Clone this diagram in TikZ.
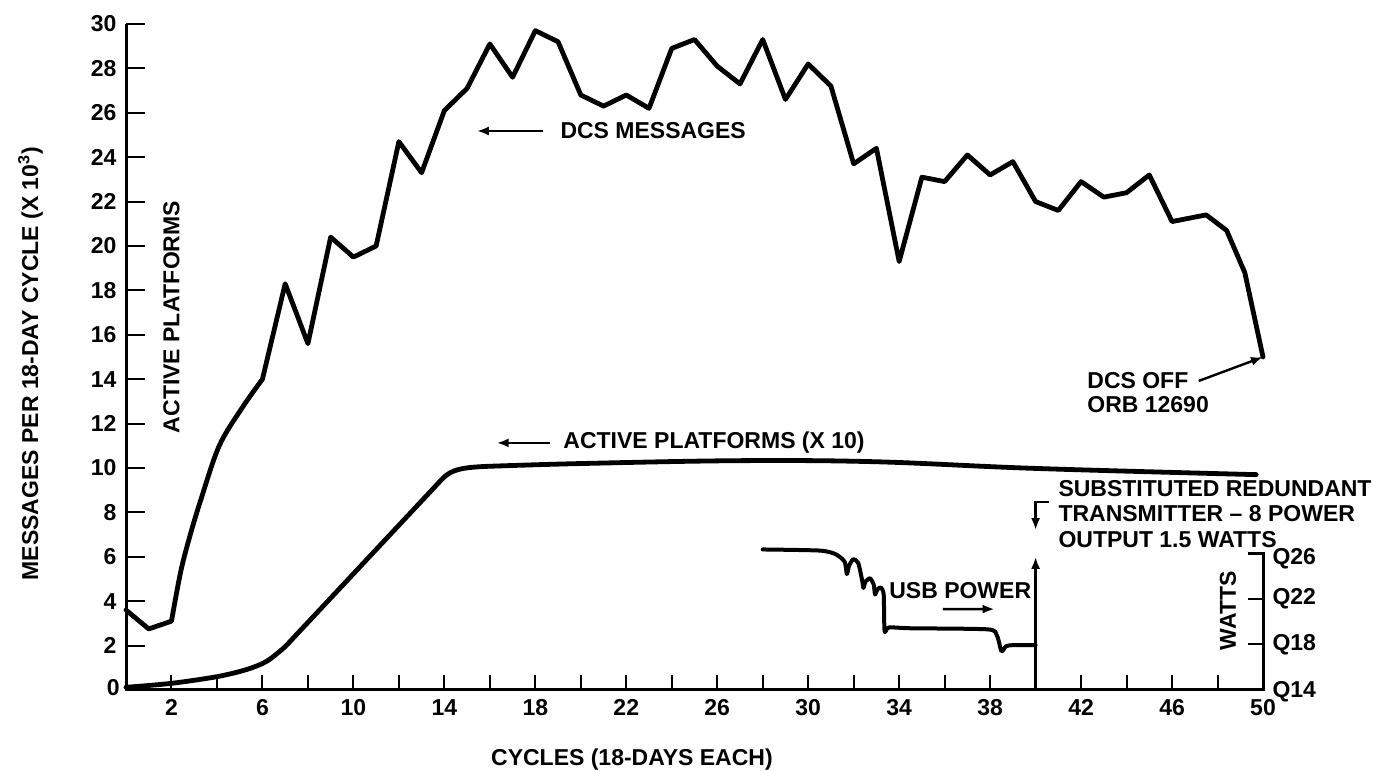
\documentclass[tikz,border=0pt]{standalone}
\usepackage{fontspec}
\setmainfont{Liberation Sans}
\usetikzlibrary{arrows.meta}
\begin{document}
\begin{tikzpicture}[x=11.37pt, y=11.1pt,
  curve/.style={line width=2.4pt, line join=round, line cap=round},
  axisline/.style={line width=1.5pt},
  tickline/.style={line width=1pt},
  pointer/.style={line width=1.2pt, -{Latex[length=6pt,width=4.5pt]}},
  lbl/.style={inner sep=0pt, font=\fontsize{11.5}{12.75}\selectfont\bfseries}]
\useasboundingbox (-5.541,-3.649) rectangle (55.585,31.081); % whole page, 1390 x 771
% axes and ticks
\draw [axisline] (0,30) -- (0,0) -- (50,0) -- (50,6.15) -- (49.34,6.15);
\foreach \v in {2,4,...,30} {
  \draw [tickline] (0,\v) -- (0.84,\v);
  \node [lbl, anchor=east] (ylab\v) at (-0.4,\v) {\v};
}
\node [lbl, anchor=east] (ylab0) at (-0.26,0.1) {0};
\foreach \c in {2,4,...,48} \draw [tickline] (\c,0) -- (\c,0.68);
\foreach \c in {2,6,...,50} \node [lbl] (xlab\c) at (\c,-0.8) {\c};
\foreach \w/\v in {18/2.05, 22/4.1} {
  \draw [tickline] (50,\v) -- (49.34,\v);
  \node [lbl, anchor=west] (wlab\w) at (50.4,\v) {Q\w};
}
\node [lbl, anchor=west] (wlab26) at (50.4,5.9) {Q26};
\node [lbl, anchor=west] (wlab14) at (50.4,-0.1) {Q14};
\node [lbl, rotate=90] (watts) at (48.46,3.56) {WATTS};
\node [lbl] (xtitle) at (22.25,-3.15) {CYCLES (18-DAYS EACH)};
\node [lbl, rotate=90] (ytitle) at (-4.2,14.7) {MESSAGES PER 18-DAY CYCLE (X 10\textsuperscript{3})};
\node [lbl, rotate=90] (aptitle) at (2.0,16.8) {ACTIVE PLATFORMS};
% DCS messages
\draw [curve] (0,3.6) -- (1,2.75)
  -- plot [smooth, tension=0.55] coordinates {(2,3.1) (2.4,5.3) (2.8,6.9) (3.3,8.6) (4.1,11.0) (5.1,12.7) (6,14)}
  -- (7,18.3) -- (8,15.6) -- (9,20.4) -- (10,19.5) -- (11,20.0) -- (12,24.7) -- (13,23.3)
  -- (14,26.1) -- (15,27.1) -- (16,29.1) -- (17,27.6) -- (18,29.7) -- (19,29.2) -- (20,26.8)
  -- (21,26.3) -- (22,26.8) -- (23,26.2) -- (24,28.9) -- (25,29.3) -- (26,28.1) -- (27,27.3)
  -- (28,29.3) -- (29,26.6) -- (30,28.2) -- (31,27.2) -- (32,23.7) -- (33,24.4) -- (34,19.3)
  -- (35,23.1) -- (36,22.9) -- (37,24.1) -- (38,23.2) -- (39,23.8) -- (40,22.0) -- (41,21.6)
  -- (42,22.9) -- (43,22.2) -- (44,22.4) -- (45,23.2) -- (46,21.1) -- (47.5,21.4) -- (48.4,20.7)
  -- (49.2,18.8) -- (50,15.0) coordinate (dcsend);
% active platforms
\draw [curve] plot [smooth, tension=0.5] coordinates {(0,0.12) (2,0.3) (4,0.6) (5.3,0.92) (6.2,1.3) (7,1.95)}
  -- (13.9,9.5) .. controls (14.3,9.94) and (14.8,10.02) .. (15.8,10.07)
  -- plot [smooth, tension=0.6] coordinates {(15.8,10.07) (20,10.2) (27,10.33) (33,10.28) (40,9.98) (49.7,9.7)};
% USB power
\draw [curve, line width=2pt] plot [smooth, tension=0.4] coordinates {
  (28.0,6.33) (30.5,6.28) (31.2,6.12) (31.6,5.78) (31.7,5.22) (31.8,5.6) (31.98,5.89) (32.2,5.72)
  (32.38,4.9) (32.43,4.6) (32.52,4.88) (32.72,5.03) (32.88,4.75) (32.94,4.3) (33.04,4.52) (33.19,4.62)
  (33.32,4.3) (33.36,2.65) (33.55,2.82) (34.5,2.78) (37.9,2.73) (38.3,2.45) (38.5,1.75) (38.7,1.97)
  (39.0,2.02) (40,2.02)};
% labels and pointers
\node [lbl, anchor=west] (dcsmsg) at (19.09,25.18) {DCS MESSAGES};
\coordinate (dcsmsgtip) at (15.43,25.18);
\draw [pointer] ([xshift=-8.5pt]dcsmsg.west) -- (dcsmsgtip);
\node [lbl, anchor=west] (aplabel) at (19.22,11.13) {ACTIVE PLATFORMS (X 10)};
\coordinate (aptip) at (16.3,11.13);
\draw [pointer] ([xshift=-6.5pt]aplabel.west) -- (aptip);
\node [lbl, anchor=west] (usb) at (33.55,4.5) {USB POWER};
\coordinate (usbtip) at (38.2,3.644);
\draw [pointer] ([xshift=27pt,yshift=-9.5pt]usb.west) -- (usbtip);
\node [lbl, anchor=west] (dcsoff) at (42.26,13.92) {DCS OFF};
\node [lbl, anchor=west] (orb) at (42.26,12.84) {ORB 12690};
\draw [pointer] ([xshift=5pt]dcsoff.east) -- (dcsend);
\node [lbl, anchor=north west, align=left] (subst) at (40.99,9.46) {SUBSTITUTED REDUNDANT\\TRANSMITTER -- 8 POWER\\OUTPUT 1.5 WATTS};
\coordinate (swapfoot) at (40,0);
\coordinate (swaptip) at (40,6.0);
\draw [pointer, line width=1.5pt] (swapfoot) -- (swaptip);
\coordinate (brk) at (40.6,8.47);
\coordinate (brktip) at (40,7.2);
\draw [pointer] (brk) -| (brktip);
\end{tikzpicture}
\end{document}
